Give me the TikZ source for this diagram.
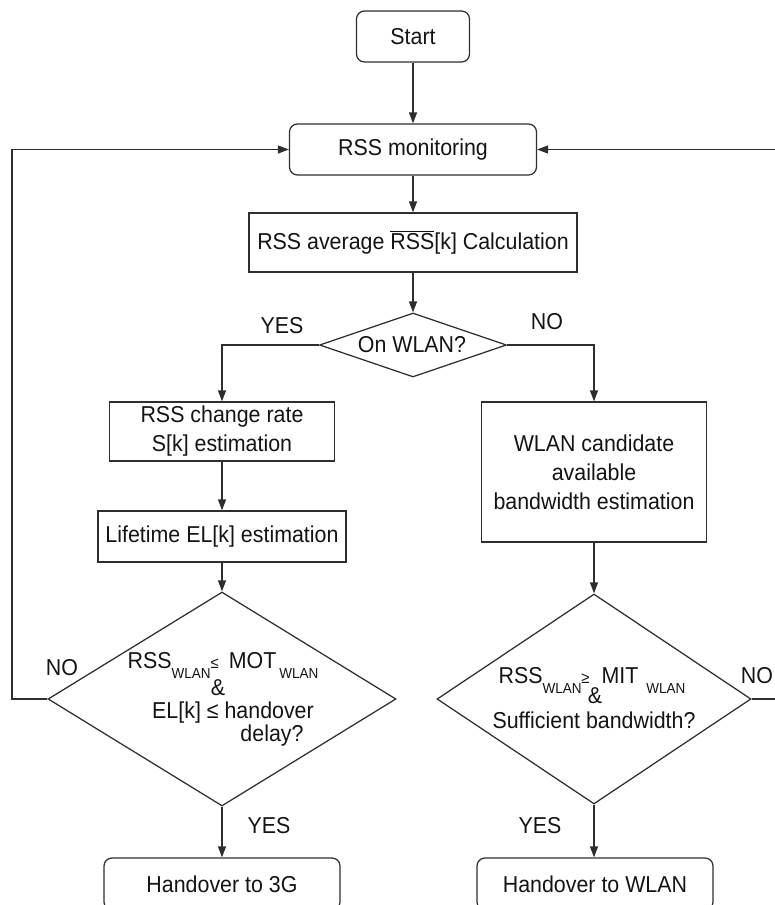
\documentclass[tikz,border=0pt]{standalone}
\usepackage{fontspec}
\setmainfont{Liberation Sans}[FakeStretch=0.93]
\usetikzlibrary{arrows.meta,shapes.geometric}
\newcommand\wsub[1]{\raisebox{-10pt}{\fontsize{14.5}{14.5}\selectfont #1}}
\newcommand\smallrel[1]{{\fontsize{16}{16}\selectfont #1}}
\begin{document}
\begin{tikzpicture}[x=1pt,y=-1pt,
 every node/.style={font=\fontsize{23}{29}\selectfont, text=black!92},
 line/.style={draw=black!82, line width=1.25pt},
 arr/.style={line, -{Triangle[length=11pt,width=8pt]}},
 rbox/.style={draw=black!82, line width=1.25pt, rounded corners=8pt, inner sep=0pt, align=center},
 sbox/.style={draw=black!82, line width=1.25pt, inner sep=0pt, align=center},
 dia/.style={draw=black!82, line width=1.25pt, diamond, inner sep=0pt},
 lbl/.style={anchor=base, inner sep=0pt}]
\useasboundingbox (0,0) rectangle (775,905);
\clip (0,0) rectangle (775,905);

\node[rbox, minimum width=113pt, minimum height=51pt] (start) at (413,36.5) {Start};
\node[rbox, minimum width=247pt, minimum height=51pt] (mon) at (413,149.5) {RSS monitoring};
\node[sbox, minimum width=328pt, minimum height=59pt] (avg) at (413,242.5) {RSS average $\overline{\hbox{RSS}}$[k] Calculation};
\node[dia, minimum width=187pt, minimum height=64pt] (q1) at (413,345) {};
\node (q1t) at (412,345) {On WLAN?};

\node[sbox, minimum width=225pt, minimum height=59pt] (rate) at (222,431.5) {RSS change rate\\S[k] estimation};
\node[sbox, minimum width=248pt, minimum height=51pt] (life) at (222,536.5) {Lifetime EL[k] estimation};
\node[dia, minimum width=348pt, minimum height=214pt] (q2) at (222,699) {};
\node[rbox, minimum width=236pt, minimum height=52pt] (ho3g) at (222,884) {Handover to 3G};

\node[sbox, minimum width=225pt, minimum height=140pt] (cand) at (594,472) {WLAN candidate\\available\\bandwidth estimation};
\node[dia, minimum width=314pt, minimum height=210pt] (q3) at (594,699) {};
\node[rbox, minimum width=236pt, minimum height=52pt] (hownl) at (595,884) {Handover to WLAN};

% diamond texts
\node[lbl] (l1) at (223,668) {RSS\wsub{WLAN}\smallrel{≤}\hspace{10pt}MOT\hspace{3pt}\wsub{WLAN}};
\node[lbl] (l2) at (218,695) {\&};
\node[lbl] (l3) at (233,718) {EL[k] ≤ handover};
\node[lbl] (l4) at (272,741) {delay?};
\node[lbl] (r1) at (592,683) {RSS\wsub{WLAN}\smallrel{≥}\hspace{12pt}MIT\hspace{8pt}\wsub{WLAN}};
\node[lbl] (r2) at (595,703) {\&};
\node[lbl] (r3) at (594,728) {Sufficient bandwidth?};

% labels
\node[lbl] (yes1) at (282,333) {YES};
\node[lbl] (no1) at (547,329) {NO};
\node[lbl] (no2) at (62,675) {NO};
\node[lbl] (yes2) at (269,833) {YES};
\node[lbl] (no3) at (757,683) {NO};
\node[lbl] (yes3) at (540,833) {YES};

% connectors
\coordinate (lc) at (12,0);
\coordinate (rc) at (779,0);
\draw[arr] (start) -- (mon);
\draw[arr] (mon) -- (avg);
\draw[arr] (avg) -- (q1);
\draw[arr] (q1.west) -| (rate.north);
\draw[arr] (q1.east) -| (cand.north);
\draw[arr] (rate) -- (life);
\draw[arr] (life) -- (q2);
\draw[arr] (cand) -- (q3);
\draw[arr] (q2.south) -- (q2.south |- ho3g.north);
\draw[arr] (q3.south) -- (q3.south |- hownl.north);
\draw[arr] (q2.west) -- (q2.west -| lc) |- (mon.west);
\draw[arr] (q3.east) -- (q3.east -| rc) |- (mon.east);
\end{tikzpicture}
\end{document}
